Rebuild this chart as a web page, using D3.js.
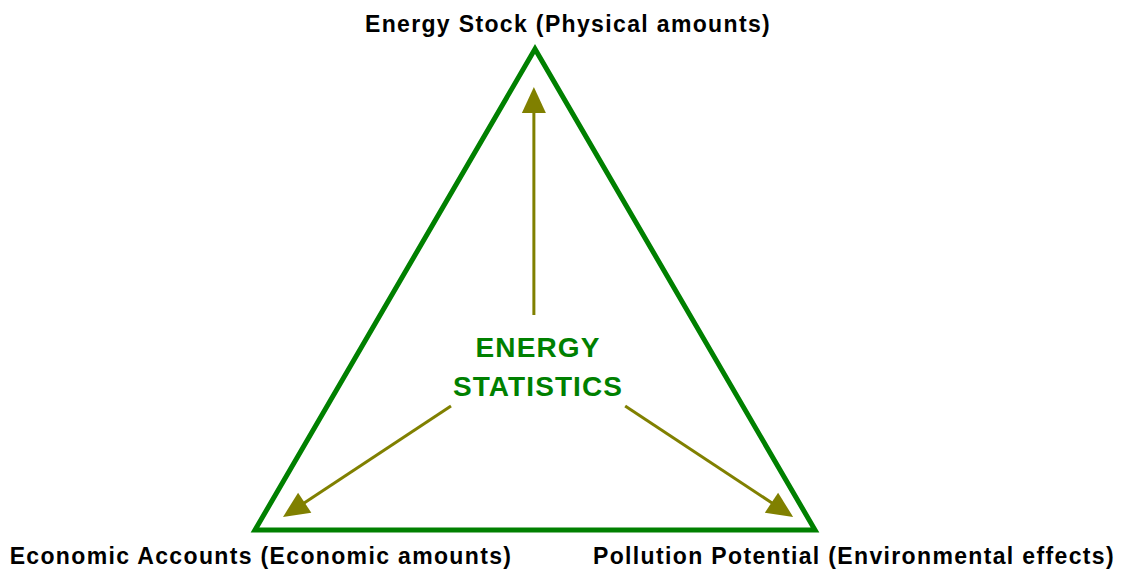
<!DOCTYPE html>
<html>
<head>
<meta charset="UTF-8">
<script src="https://cdn.jsdelivr.net/npm/d3@7"></script>
<style>
	html, body { margin: 0; padding: 0; background: #fff; }
	svg { display: block; }
	text { font-family: "Liberation Sans", Arial, sans-serif; font-weight: bold; }
</style>
</head>
<body>
<div id="chart"></div>
<script>
// corners of the triangle, in a 0..100 diagram space
const corners = [
	{ id: 'stock', x: 50, y: 100 },
	{ id: 'economic', x: 0, y: 0 },
	{ id: 'pollution', x: 100, y: 0 }
];
const cornerLabels = [
	'Energy Stock (Physical amounts)',
	'Economic Accounts (Economic amounts)',
	'Pollution Potential (Environmental effects)'
];
const centerLabel = ['ENERGY', 'STATISTICS'];
// arrows from the centre out to each corner: start and tip
const arrowFrom = [[49.8, 44.7], [35, 25.8], [66.1, 25.8]];
const arrowTo = [[49.8, 92.1], [5, 2.7], [96.1, 2.7]];

const width = 1122, height = 569;
const green = '#008000', olive = '#808000';

const x = d3.scaleLinear([0, 100], [255, 815]);
const y = d3.scaleLinear([0, 100], [530, 49]);

const svg = d3.select('#chart').append('svg')
	.attr('width', width)
	.attr('height', height);

// triangle
svg.append('path')
	.datum(corners)
	.attr('d', d3.line().x(d => x(d.x)).y(d => y(d.y)).curve(d3.curveLinearClosed))
	.attr('fill', 'none')
	.attr('stroke', green)
	.attr('stroke-width', 5)
	.attr('stroke-linejoin', 'miter');

// arrows
const headLen = 26, headHalf = 12;
arrowFrom.forEach((f, i) => {
	const t = arrowTo[i];
	const x0 = x(f[0]), y0 = y(f[1]), x1 = x(t[0]), y1 = y(t[1]);
	const dx = x1 - x0, dy = y1 - y0, len = Math.hypot(dx, dy);
	const ux = dx / len, uy = dy / len;
	const bx = x1 - ux * headLen, by = y1 - uy * headLen;
	svg.append('line')
		.attr('x1', x0).attr('y1', y0)
		.attr('x2', bx + ux * 2).attr('y2', by + uy * 2)
		.attr('stroke', olive)
		.attr('stroke-width', 3);
	svg.append('path')
		.attr('d', 'M' + x1 + ',' + y1 +
			'L' + (bx - uy * headHalf) + ',' + (by + ux * headHalf) +
			'L' + (bx + uy * headHalf) + ',' + (by - ux * headHalf) + 'Z')
		.attr('fill', olive);
});

// corner labels
const labelPos = [
	{ x: 568, y: 32 },
	{ x: 261, y: 564 },
	{ x: 854, y: 564 }
];
svg.selectAll('.corner-label')
	.data(cornerLabels)
	.enter().append('text')
	.attr('class', 'corner-label')
	.attr('x', (d, i) => labelPos[i].x)
	.attr('y', (d, i) => labelPos[i].y)
	.attr('text-anchor', 'middle')
	.attr('font-size', 23)
	.attr('letter-spacing', 1.35)
	.attr('fill', '#000')
	.text(d => d);

// centre label
svg.selectAll('.center-label')
	.data(centerLabel)
	.enter().append('text')
	.attr('class', 'center-label')
	.attr('x', 538)
	.attr('y', (d, i) => 357 + i * 38.5)
	.attr('text-anchor', 'middle')
	.attr('font-size', 28)
	.attr('letter-spacing', 1.1)
	.attr('fill', green)
	.text(d => d);
</script>
</body>
</html>
